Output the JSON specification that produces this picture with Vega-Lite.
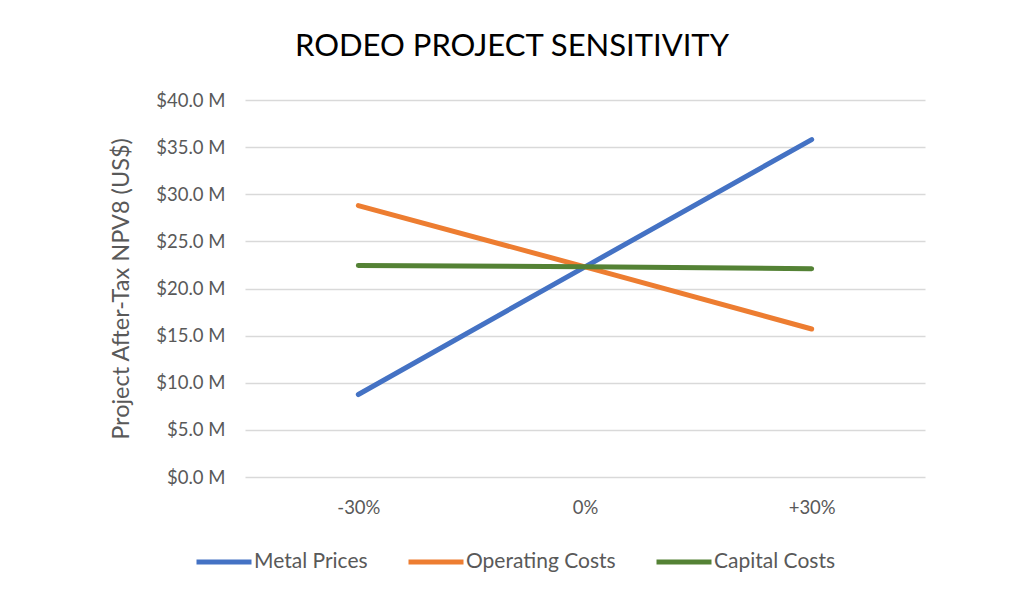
{
  "$schema": "https://vega.github.io/schema/vega-lite/v6.json",
  "autosize": {"type": "none"},
  "width": 680,
  "height": 377,
  "padding": {"left": 245, "top": 100, "right": 99, "bottom": 124},
  "background": "white",
  "title": {
    "text": "RODEO PROJECT SENSITIVITY",
    "font": "Lato",
    "fontSize": 31,
    "fontWeight": "normal",
    "color": "#000000",
    "anchor": "middle",
    "dx": -73,
    "offset": 28
  },
  "data": {
    "values": [
      {"change": "-30%", "series": "Metal Prices", "npv": 8.75},
      {"change": "0%", "series": "Metal Prices", "npv": 22.3},
      {"change": "+30%", "series": "Metal Prices", "npv": 35.8},
      {"change": "-30%", "series": "Operating Costs", "npv": 28.8},
      {"change": "0%", "series": "Operating Costs", "npv": 22.3},
      {"change": "+30%", "series": "Operating Costs", "npv": 15.7},
      {"change": "-30%", "series": "Capital Costs", "npv": 22.45},
      {"change": "0%", "series": "Capital Costs", "npv": 22.3},
      {"change": "+30%", "series": "Capital Costs", "npv": 22.1}
    ]
  },
  "mark": {"type": "line", "strokeWidth": 5, "strokeCap": "round"},
  "encoding": {
    "x": {
      "field": "change",
      "type": "ordinal",
      "sort": ["-30%", "0%", "+30%"],
      "scale": {"type": "point", "padding": 0.5},
      "axis": {
        "title": null,
        "labelAngle": 0,
        "ticks": false,
        "domain": false,
        "grid": false,
        "labelPadding": 21,
        "labelFont": "Lato",
        "labelFontSize": 18.5,
        "labelColor": "#595959"
      }
    },
    "y": {
      "field": "npv",
      "type": "quantitative",
      "scale": {"domain": [0, 40]},
      "axis": {
        "title": "Project After-Tax NPV8 (US$)",
        "titleFont": "Lato",
        "titleFontSize": 23.5,
        "titleFontWeight": "normal",
        "titleColor": "#595959",
        "titlePadding": 22,
        "values": [0, 5, 10, 15, 20, 25, 30, 35, 40],
        "labelExpr": "'$' + format(datum.value, '.1f') + ' M'",
        "labelFont": "Lato",
        "labelFontSize": 18.5,
        "labelColor": "#595959",
        "labelPadding": 20,
        "ticks": false,
        "domain": false,
        "grid": true,
        "gridColor": "#d9d9d9",
        "gridWidth": 1.3
      }
    },
    "color": {
      "field": "series",
      "type": "nominal",
      "sort": ["Metal Prices", "Operating Costs", "Capital Costs"],
      "scale": {
        "domain": ["Metal Prices", "Operating Costs", "Capital Costs"],
        "range": ["#4472C4", "#ED7D31", "#548235"]
      },
      "legend": {
        "title": null,
        "orient": "none",
        "direction": "horizontal",
        "legendX": -51,
        "legendY": 432,
        "symbolType": "stroke",
        "symbolSize": 3025,
        "symbolStrokeWidth": 5,
        "labelOffset": 0,
        "columnPadding": 30,
        "labelFont": "Lato",
        "labelFontSize": 21,
        "labelColor": "#595959"
      }
    }
  },
  "config": {"view": {"stroke": null}}
}
